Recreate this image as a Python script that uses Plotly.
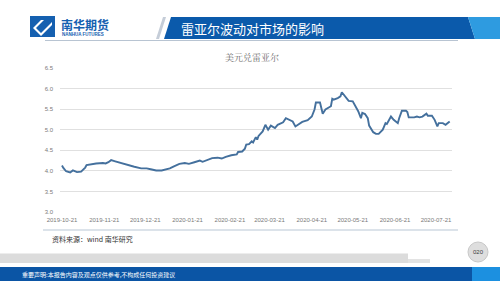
import plotly.graph_objects as go

# ---- data ----
dates = [
    "2019-10-21", "2019-10-22", "2019-10-24", "2019-10-27", "2019-10-29", "2019-11-01",
    "2019-11-04", "2019-11-07", "2019-11-08", "2019-11-11", "2019-11-15", "2019-11-20",
    "2019-11-22", "2019-11-24", "2019-11-26", "2019-11-29", "2019-12-03", "2019-12-08",
    "2019-12-13", "2019-12-18", "2019-12-22", "2019-12-25", "2019-12-28", "2019-12-29",
    "2020-01-02", "2020-01-06", "2020-01-08", "2020-01-11", "2020-01-15", "2020-01-19",
    "2020-01-22", "2020-01-26", "2020-01-30", "2020-02-01", "2020-02-05", "2020-02-08",
    "2020-02-12", "2020-02-15", "2020-02-18", "2020-02-22", "2020-02-26", "2020-02-27",
    "2020-03-01", "2020-03-03", "2020-03-04", "2020-03-06", "2020-03-08", "2020-03-09",
    "2020-03-11", "2020-03-12", "2020-03-13", "2020-03-16", "2020-03-18", "2020-03-20",
    "2020-03-22", "2020-03-25", "2020-03-27", "2020-03-31", "2020-04-02", "2020-04-05",
    "2020-04-07", "2020-04-09", "2020-04-12", "2020-04-14", "2020-04-18", "2020-04-21",
    "2020-04-23", "2020-04-24", "2020-04-27", "2020-04-28", "2020-04-29", "2020-05-01",
    "2020-05-04", "2020-05-05", "2020-05-06", "2020-05-07", "2020-05-10", "2020-05-12",
    "2020-05-13", "2020-05-15", "2020-05-17", "2020-05-18", "2020-05-21", "2020-05-23",
    "2020-05-25", "2020-05-27", "2020-05-28", "2020-05-30", "2020-06-01", "2020-06-02",
    "2020-06-03", "2020-06-05", "2020-06-07", "2020-06-09", "2020-06-12", "2020-06-14",
    "2020-06-15", "2020-06-18", "2020-06-20", "2020-06-23", "2020-06-24", "2020-06-26",
    "2020-06-29", "2020-06-30", "2020-07-01", "2020-07-05", "2020-07-07", "2020-07-09",
    "2020-07-11", "2020-07-14", "2020-07-15", "2020-07-18", "2020-07-20", "2020-07-22",
    "2020-07-23", "2020-07-26", "2020-07-28", "2020-07-31",
]
usd_brl = [
    4.13, 4.07, 3.99, 3.96, 4.01, 3.97,
    3.98, 4.08, 4.14, 4.16, 4.18, 4.19,
    4.18, 4.21, 4.26, 4.23, 4.19, 4.14,
    4.10, 4.06, 4.06, 4.04, 4.02, 4.01,
    4.01, 4.04, 4.06, 4.11, 4.17, 4.19,
    4.17, 4.21, 4.25, 4.22, 4.27, 4.31,
    4.32, 4.30, 4.34, 4.38, 4.40, 4.46,
    4.47, 4.54, 4.64, 4.65, 4.72, 4.69,
    4.82, 4.76, 4.85, 4.96, 5.12, 5.00,
    5.10, 5.04, 5.12, 5.18, 5.28, 5.24,
    5.20, 5.08, 5.14, 5.19, 5.23, 5.32,
    5.49, 5.66, 5.66, 5.53, 5.39, 5.49,
    5.55, 5.57, 5.75, 5.73, 5.77, 5.81,
    5.91, 5.83, 5.73, 5.70, 5.69, 5.57,
    5.45, 5.28, 5.41, 5.38, 5.28, 5.10,
    5.04, 4.94, 4.90, 4.90, 5.00, 5.16,
    5.14, 5.32, 5.24, 5.16, 5.28, 5.46,
    5.46, 5.43, 5.30, 5.30, 5.32, 5.30,
    5.32, 5.39, 5.34, 5.34, 5.24, 5.08,
    5.16, 5.16, 5.12, 5.20,
]
x_tick_vals = ["2019-10-21", "2019-11-21", "2019-12-21", "2020-01-21", "2020-02-21",
               "2020-03-21", "2020-04-21", "2020-05-21", "2020-06-21", "2020-07-21"]
y_tick_vals = [3.0, 3.5, 4.0, 4.5, 5.0, 5.5, 6.0, 6.5]
y_tick_text = ["3.0", "3.5", "4.0", "4.5", "5.0", "5.5", "6.0", "6.5"]

chart_title = "美元兑雷亚尔"
page_title = "雷亚尔波动对市场的影响"
source_text = "资料来源：wind 南华研究"
disclaimer = "重要声明:本报告内容及观点仅供参考,不构成任何投资建议"

# ---- layout geometry (pixels) ----
W, H = 500, 281
L, R, T, B = 60, 48, 68, 69
PW, PH = W - L - R, H - T - B


def px(x):
    return (x - L) / PW


def py(y):
    return 1 - (y - T) / PH


fig = go.Figure()
fig.add_trace(go.Scatter(
    x=dates, y=usd_brl, mode="lines",
    line=dict(color="#44709d", width=1.9),
    hoverinfo="skip", showlegend=False,
))

shapes = []
annotations = []

# header logo icon
shapes.append(dict(type="rect", xref="paper", yref="paper",
                   x0=px(30), x1=px(55), y0=py(37), y1=py(16),
                   fillcolor="#1560b0", line=dict(width=0), layer="above"))
icon_path = (f"M {px(33)},{py(28)} L {px(41)},{py(20)} L {px(44)},{py(20)} L {px(36)},{py(28)} "
             f"L {px(41)},{py(33)} L {px(52)},{py(22)} L {px(52)},{py(25)} L {px(41)},{py(36)} Z")
shapes.append(dict(type="path", xref="paper", yref="paper", path=icon_path,
                   fillcolor="white", line=dict(width=0), layer="above"))
annotations.append(dict(text="<b>南华期货</b>", x=px(59), y=py(24), xref="paper", yref="paper",
                        xanchor="left", yanchor="middle", showarrow=False,
                        font=dict(family="Noto Sans CJK SC", size=12, color="#1560b0")))
annotations.append(dict(text="<b>NANHUA FUTURES</b>", x=px(60), y=py(35), xref="paper", yref="paper",
                        xanchor="left", yanchor="middle", showarrow=False,
                        font=dict(family="Liberation Sans", size=4.5, color="#1560b0")))

# header banner
shapes.append(dict(type="path", xref="paper", yref="paper",
                   path=f"M {px(156)},{py(39)} L {px(163)},{py(17)} L {px(166)},{py(17)} L {px(159)},{py(39)} Z",
                   fillcolor="#c5cdd8", line=dict(width=0), layer="above"))
shapes.append(dict(type="path", xref="paper", yref="paper",
                   path=f"M {px(164)},{py(39)} L {px(171)},{py(17)} L {px(468)},{py(17)} L {px(475)},{py(39)} Z",
                   fillcolor="#0b5aab", line=dict(width=0), layer="above"))
shapes.append(dict(type="path", xref="paper", yref="paper",
                   path=f"M {px(468)},{py(17)} L {px(500)},{py(17)} L {px(500)},{py(39)} L {px(475)},{py(39)} Z",
                   fillcolor="#2e9be0", line=dict(width=0), layer="above"))
shapes.append(dict(type="line", xref="paper", yref="paper",
                   x0=px(45), x1=px(458), y0=py(40.5), y1=py(40.5),
                   line=dict(color="#b8c4d2", width=1), layer="above"))
annotations.append(dict(text=page_title, x=px(179), y=py(28.5), xref="paper", yref="paper",
                        xanchor="left", yanchor="middle", showarrow=False,
                        font=dict(family="Noto Sans CJK SC", size=13, color="white")))

# chart title
annotations.append(dict(text=chart_title, x=px(252), y=py(57), xref="paper", yref="paper",
                        xanchor="center", yanchor="middle", showarrow=False,
                        font=dict(family="Noto Serif CJK SC, Noto Sans CJK SC", size=9, color="#6b6b6b")))

# source line and text
shapes.append(dict(type="line", xref="paper", yref="paper",
                   x0=px(43), x1=px(458), y0=py(230), y1=py(230),
                   line=dict(color="#b9c7d6", width=1.2), layer="above"))
annotations.append(dict(text=source_text, x=px(50), y=py(239), xref="paper", yref="paper",
                        xanchor="left", yanchor="middle", showarrow=False,
                        font=dict(family="Noto Sans CJK SC", size=7, color="#333333")))

# footer gray bar
shapes.append(dict(type="rect", xref="paper", yref="paper",
                   x0=px(0), x1=px(408), y0=py(263), y1=py(253.5),
                   fillcolor="#dcdcdc", line=dict(width=0), layer="above"))
shapes.append(dict(type="rect", xref="paper", yref="paper",
                   x0=px(408), x1=px(430), y0=py(263), y1=py(259),
                   fillcolor="#e3e3e3", line=dict(width=0), layer="above"))

# page number circle
shapes.append(dict(type="circle", xref="paper", yref="paper",
                   x0=px(468), x1=px(488), y0=py(262), y1=py(242),
                   fillcolor="#dedede", line=dict(color="#c8c8c8", width=1), layer="above"))
annotations.append(dict(text="020", x=px(478), y=py(252), xref="paper", yref="paper",
                        xanchor="center", yanchor="middle", showarrow=False,
                        font=dict(family="Liberation Sans", size=6, color="#404040")))

# footer blue bar
shapes.append(dict(type="rect", xref="paper", yref="paper",
                   x0=px(0), x1=px(472), y0=py(281), y1=py(267),
                   fillcolor="#0b55a5", line=dict(width=0), layer="above"))
shapes.append(dict(type="rect", xref="paper", yref="paper",
                   x0=px(472), x1=px(500), y0=py(281), y1=py(267),
                   fillcolor="#1c90e0", line=dict(width=0), layer="above"))
annotations.append(dict(text=disclaimer, x=px(20), y=py(274), xref="paper", yref="paper",
                        xanchor="left", yanchor="middle", showarrow=False,
                        font=dict(family="Noto Sans CJK SC", size=6, color="white")))

fig.update_layout(
    width=W, height=H,
    margin=dict(l=L, r=R, t=T, b=B, pad=0),
    paper_bgcolor="white", plot_bgcolor="white",
    shapes=shapes, annotations=annotations,
    xaxis=dict(
        type="date",
        range=["2019-10-19 13:00", "2020-08-01 17:00"],
        tickvals=x_tick_vals, ticktext=x_tick_vals,
        showgrid=False, zeroline=False, showline=False,
        ticks="", ticklen=0, ticklabelstandoff=3,
        tickfont=dict(family="Liberation Sans", size=6, color="#7a7a7a"),
        fixedrange=True,
    ),
    yaxis=dict(
        range=[3.0, 6.5],
        tickvals=y_tick_vals, ticktext=y_tick_text,
        showgrid=True, gridcolor="#e0e0e0", gridwidth=1,
        zeroline=False, showline=False,
        ticks="", ticklabelstandoff=6,
        tickfont=dict(family="Liberation Sans", size=6, color="#7a7a7a"),
        fixedrange=True,
    ),
)

fig.write_html("out.html", config={"displayModeBar": False})
